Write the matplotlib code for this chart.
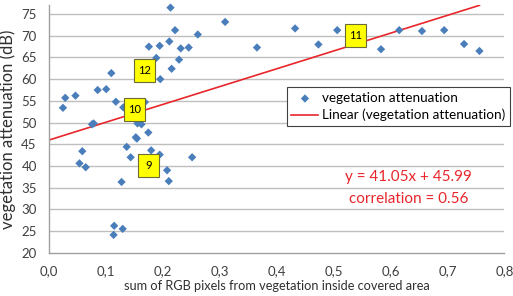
import numpy as np
import matplotlib
matplotlib.use("Agg")
import matplotlib.pyplot as plt
import matplotlib.transforms as mtransforms
from matplotlib.patches import Rectangle
from matplotlib.ticker import FuncFormatter

plt.rcParams['font.family'] = ['Lato', 'DejaVu Sans']

rgb_sum = [0.024, 0.028, 0.046, 0.058, 0.053, 0.064, 0.075, 0.078, 0.085, 0.100,
           0.109, 0.117, 0.130, 0.136, 0.152, 0.154, 0.143, 0.155, 0.162, 0.168,
           0.174, 0.175, 0.179, 0.188, 0.194, 0.195, 0.194, 0.207, 0.210, 0.211,
           0.213, 0.215, 0.221, 0.228, 0.231, 0.245, 0.251, 0.261, 0.309, 0.365,
           0.127, 0.114, 0.129, 0.113, 0.432, 0.473, 0.506, 0.583, 0.615, 0.655,
           0.694, 0.729, 0.756]
attenuation = [53.4, 55.7, 56.2, 43.4, 40.6, 39.7, 49.6, 49.8, 57.5, 57.7,
               61.4, 54.8, 53.5, 44.4, 46.6, 46.3, 42.0, 49.8, 49.6, 54.7,
               47.7, 67.5, 43.6, 64.9, 67.7, 60.0, 42.6, 39.0, 36.5, 68.7,
               76.5, 62.4, 71.3, 64.5, 67.1, 67.3, 42.0, 70.3, 73.2, 67.3,
               36.3, 26.2, 25.5, 24.1, 71.7, 68.0, 71.3, 66.9, 71.3, 71.1,
               71.3, 68.1, 66.5]

slope = 41.05
intercept = 45.99
correlation = 0.56

box_text = ['12', '10', '11', '9']
box_x = [0.168, 0.149, 0.538, 0.175]
box_y = [61.9, 52.9, 70.1, 40.0]

x_ticks = [0.0, 0.1, 0.2, 0.3, 0.4, 0.5, 0.6, 0.7, 0.8]
y_ticks = [20, 25, 30, 35, 40, 45, 50, 55, 60, 65, 70, 75]

fig = plt.figure(figsize=(5.13, 2.96), dpi=100)
ax = fig.add_axes([0.0961, 0.1463, 0.8873, 0.8368])

# grid
for v in y_ticks[1:]:
    ax.axhline(v, color='#bfbfbf', lw=1.0, zorder=0)

ax.scatter(rgb_sum, attenuation, marker='D', s=18, color='#4a7ebb',
           edgecolors='none', zorder=3, label='vegetation attenuation',
           clip_on=False)

xl = np.array([0.0, max(rgb_sum)])
ax.plot(xl, slope * xl + intercept, color='#e8262b', lw=1.2, zorder=2,
        label='Linear (vegetation attenuation)')

# yellow number boxes, all the same size
for t, bx, by in zip(box_text, box_x, box_y):
    tr = fig.dpi_scale_trans + mtransforms.ScaledTranslation(bx, by, ax.transData)
    ax.add_patch(Rectangle((-0.105, -0.115), 0.21, 0.23, transform=tr,
                           fc='#ffff00', ec='#6b6b3a', lw=0.8, zorder=5))
    ax.text(bx, by, t, ha='center', va='center', fontsize=8, zorder=6)

ax.text(0.632, 37.4, 'y = %.2fx + %.2f' % (slope, intercept), color='#e8262b',
        fontsize=11, ha='center', va='center')
ax.text(0.632, 32.3, 'correlation = %.2f' % correlation, color='#e8262b',
        fontsize=11, ha='center', va='center')

ax.set_xlim(0, 0.8)
ax.set_ylim(20, 77.1)
ax.set_xticks(x_ticks)
ax.set_yticks(y_ticks)
ax.xaxis.set_major_formatter(FuncFormatter(lambda v, p: ('%.1f' % v).replace('.', ',')))
ax.tick_params(length=0, labelsize=9.5, colors='#404040')
ax.tick_params(axis='y', pad=9)
ax.tick_params(axis='x', pad=9)
for s in ['top', 'right']:
    ax.spines[s].set_visible(False)
for s in ['left', 'bottom']:
    ax.spines[s].set_color('#a0a0a0')
    ax.spines[s].set_linewidth(1.0)

ax.set_xlabel('sum of RGB pixels from vegetation inside covered area',
              fontsize=9.2, color='#303030', labelpad=2)
ax.set_ylabel('vegetation attenuation (dB)', fontsize=12, color='#303030', labelpad=4)

leg = fig.legend(loc='upper left', bbox_to_anchor=(0.559, 0.705), fontsize=9.7,
                 frameon=True, fancybox=False, framealpha=1, edgecolor='#404040',
                 handlelength=2.0, handletextpad=0.25, borderpad=0.35,
                 labelspacing=0.35, scatterpoints=1, borderaxespad=0)
leg.get_frame().set_linewidth(0.8)

fig.savefig('out.png', dpi=100)
